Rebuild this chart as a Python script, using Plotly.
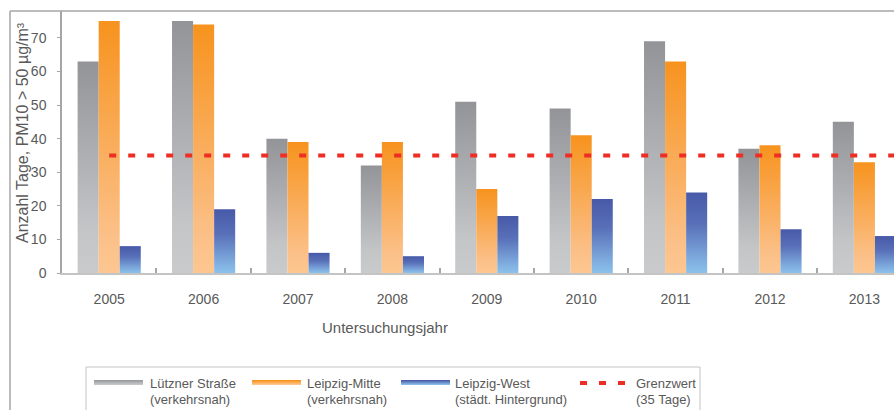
import plotly.graph_objects as go

# --- data ---------------------------------------------------------------
years = ["2005", "2006", "2007", "2008", "2009", "2010", "2011", "2012", "2013"]
luetzner = [63, 75, 40, 32, 51, 49, 69, 37, 45]
mitte = [75, 74, 39, 39, 25, 41, 63, 38, 33]
west = [8, 19, 6, 5, 17, 22, 24, 13, 11]
grenzwert = 35

series_names = ["Lützner Straße", "Leipzig-Mitte", "Leipzig-West"]
series_notes = ["(verkehrsnah)", "(verkehrsnah)", "(städt. Hintergrund)"]
limit_name = "Grenzwert"
limit_note = "(35 Tage)"
y_title = "Anzahl Tage, PM10 > 50 µg/m³"
x_title = "Untersuchungsjahr"

# --- styling ------------------------------------------------------------
W, H = 894, 410
ML, MT, MB = 62, 11, 137
PW, PH = W - ML, H - MT - MB          # plot area in px
CAT_PX = 94.4                         # width of one year slot in px
X_MIN = -0.5
X_MAX = X_MIN + PW / CAT_PX
Y_MAX = 78

FONT = "Liberation Sans, Arial, sans-serif"
TXT = "#595959"
AXIS = "#a6a6a6"

# gradients: bottom (light) -> top (dark)
scales = [
    [[0, "#c9cacc"], [0.2, "#c4c5c7"], [1, "#939498"]],
    [[0, "#fdc690"], [0.15, "#fbc088"], [1, "#f7931e"]],
    [[0, "#8bc1eb"], [0.15, "#80aee0"], [0.6, "#5971b9"], [1, "#4759a8"]],
]
swatch_cols = [("#9a9b9f", "#c6c7c9"), ("#f7941d", "#fcc48e"), ("#4a5ea9", "#88bce7")]
LIMIT_COL = "#ee2e24"

BAR_W = 0.223


def px_x(px):
    return (px - ML) / PW


def px_y(py):
    return (MT + PH - py) / PH


fig = go.Figure()

# bars, each a filled rectangle with its own vertical gradient
for k, (vals, cs) in enumerate(zip([luetzner, mitte, west], scales)):
    off = (k - 1) * BAR_W
    for i, v in enumerate(vals):
        x0 = i + off - BAR_W / 2
        x1 = x0 + BAR_W
        fig.add_trace(go.Scatter(
            x=[x0, x1, x1, x0, x0], y=[0, 0, v, v, 0],
            mode="lines", line=dict(width=0),
            fill="toself",
            fillgradient=dict(type="vertical", colorscale=cs, start=0, stop=v),
            name=series_names[k], showlegend=False, hoverinfo="skip",
        ))

# limit line (35 days)
fig.add_trace(go.Scatter(
    x=[0, X_MAX], y=[grenzwert, grenzwert], mode="lines",
    line=dict(color=LIMIT_COL, width=4, dash="7px,12px"),
    name=limit_name, showlegend=False, hoverinfo="skip",
))

shapes = []
annotations = []

# outer chart frame (top and left edges)
shapes.append(dict(type="line", xref="paper", yref="paper",
                   x0=px_x(10), x1=px_x(W + 5), y0=px_y(11), y1=px_y(11),
                   line=dict(color=AXIS, width=1.5)))
shapes.append(dict(type="line", xref="paper", yref="paper",
                   x0=px_x(10), x1=px_x(10), y0=px_y(11), y1=px_y(H + 5),
                   line=dict(color=AXIS, width=1.5)))

# legend box
shapes.append(dict(type="rect", xref="paper", yref="paper",
                   x0=px_x(86), x1=px_x(700), y0=px_y(367), y1=px_y(H + 5),
                   line=dict(color="#c4c4c4", width=1), fillcolor="white",
                   layer="below"))

# legend swatches with a small top->bottom gradient
sw_x = [94, 252, 401]
text_x = [148, 305, 453]
strips = 5
for (dark, light), sx in zip(swatch_cols, sw_x):
    d = [int(dark[j:j + 2], 16) for j in (1, 3, 5)]
    l = [int(light[j:j + 2], 16) for j in (1, 3, 5)]
    for s in range(strips):
        t = s / (strips - 1)
        c = "rgb(%d,%d,%d)" % tuple(round(d[n] + (l[n] - d[n]) * t) for n in range(3))
        shapes.append(dict(type="rect", xref="paper", yref="paper",
                           x0=px_x(sx), x1=px_x(sx + 49),
                           y0=px_y(380 + s + 1), y1=px_y(380 + s),
                           line=dict(width=0), fillcolor=c))

shapes.append(dict(type="line", xref="paper", yref="paper",
                   x0=px_x(580), x1=px_x(626), y0=px_y(383), y1=px_y(383),
                   line=dict(color=LIMIT_COL, width=4, dash="7px,12px")))

for name, note, tx in zip(series_names + [limit_name], series_notes + [limit_note],
                          text_x + [634]):
    for txt, cy in ((name, 383), (note, 399)):
        annotations.append(dict(text=txt, xref="paper", yref="paper",
                                x=px_x(tx), y=px_y(cy), xanchor="left",
                                yanchor="middle", showarrow=False,
                                font=dict(family=FONT, size=13, color=TXT)))

# axis titles
annotations.append(dict(text=y_title, xref="paper", yref="paper",
                        x=px_x(22), y=px_y(133), textangle=-90,
                        xanchor="center", yanchor="middle", showarrow=False,
                        font=dict(family=FONT, size=16, color=TXT)))
annotations.append(dict(text=x_title, xref="paper", yref="paper",
                        x=px_x(385), y=px_y(327), xanchor="center",
                        yanchor="middle", showarrow=False,
                        font=dict(family=FONT, size=15, color=TXT)))

fig.update_layout(
    width=W, height=H,
    margin=dict(l=ML, r=0, t=MT, b=MB, pad=0),
    paper_bgcolor="white", plot_bgcolor="white",
    showlegend=False,
    shapes=shapes, annotations=annotations,
    xaxis=dict(
        range=[X_MIN, X_MAX], tickmode="array",
        tickvals=list(range(len(years))), ticktext=years,
        ticks="", showgrid=False, zeroline=False,
        showline=True, linecolor="#c4c4c4", linewidth=2,
        tickfont=dict(family=FONT, size=14, color=TXT),
        ticklabelstandoff=12,
        minor=dict(tickmode="array",
                   tickvals=[i + 0.5 for i in range(len(years))],
                   ticks="inside", ticklen=5, tickcolor=AXIS, tickwidth=1.5,
                   showgrid=False),
    ),
    yaxis=dict(
        range=[0, Y_MAX], dtick=10, tick0=0,
        ticks="outside", ticklen=3, tickcolor=AXIS, tickwidth=1,
        showgrid=False, zeroline=False,
        showline=True, linecolor=AXIS, linewidth=1.5,
        tickfont=dict(family=FONT, size=14, color=TXT),
        ticklabelstandoff=8,
    ),
)

fig.write_html("out.html")
